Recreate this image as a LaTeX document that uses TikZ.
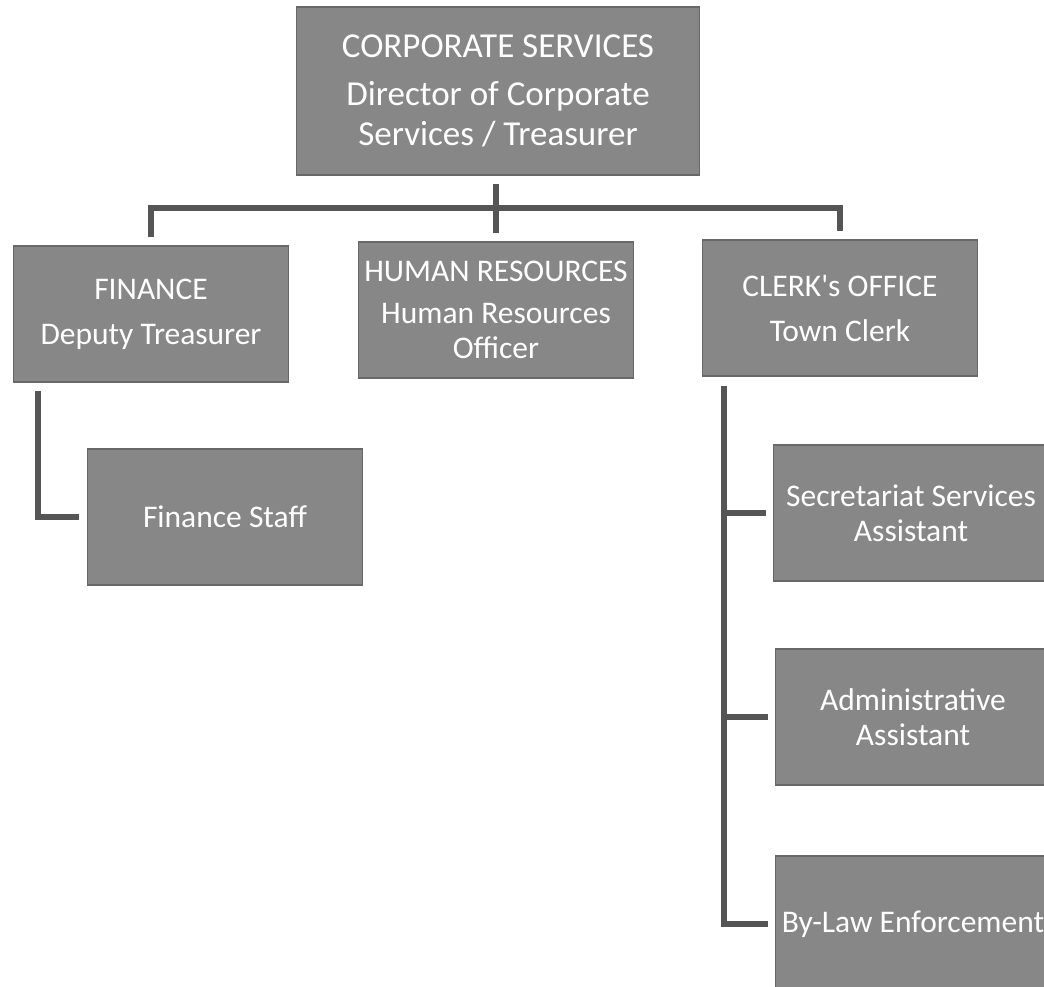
\documentclass[tikz,border=0pt]{standalone}
\usepackage{fontspec}
\setmainfont{Carlito}
\usepackage{xcolor}
\definecolor{boxgray}{HTML}{878787}
\definecolor{edgegray}{HTML}{686868}
\definecolor{linkgray}{HTML}{555555}
\usetikzlibrary{positioning, calc}

\begin{document}
\begin{tikzpicture}[x=1pt, y=-1pt,
  unit/.style={draw=edgegray, line width=1.2pt, fill=boxgray, text=white,
    minimum width=275pt, minimum height=136pt, align=center,
    font=\fontsize{31.5}{35}\selectfont},
  head/.style={unit, minimum width=403pt, minimum height=168pt,
    font=\fontsize{35}{40}\selectfont},
  link/.style={draw=linkgray, line width=6.5pt, line join=miter}]
  % page frame
  \useasboundingbox (0,0) rectangle (1044,987);
  \clip (0,0) rectangle (1044,987);
  % boxes
  \node[head] (corp) at (498,91)
    {CORPORATE SERVICES\\[8pt]Director of Corporate\\Services / Treasurer};
  \node[unit] (fin) at (151,314) {FINANCE\\[10pt]Deputy Treasurer};
  \node[unit] (hr) at (496,310) {HUMAN RESOURCES\\[7pt]Human Resources\\Officer};
  \node[unit] (clerk) at (840,308) {CLERK\textquotesingle s OFFICE\\[10pt]Town Clerk};
  \node[unit] (fstaff) at (225,517) {Finance Staff};
  \node[unit] (secr) at (911,513) {Secretariat Services\\Assistant};
  \node[unit] (admin) at (913,717) {Administrative\\Assistant};
  \node[unit] (bylaw) at (913,924) {By-Law Enforcement};
  % top level connectors
  \coordinate (bus) at (496,208);
  \draw[link] ([yshift=-8pt]corp.south -| hr.north) -- ([yshift=8pt]hr.north);
  \draw[link] ([yshift=8pt]fin.north) |- (bus) -| ([yshift=8pt]clerk.north);
  % finance branch
  \draw[link] ([xshift=25pt,yshift=-8pt]fin.south west) |- ([xshift=-8pt]fstaff.west);
  % clerk branch
  \coordinate (trunk) at ([xshift=22pt,yshift=-9pt]clerk.south west);
  \draw[link] (trunk) |- ([xshift=-7pt]bylaw.west);
  \foreach \n in {secr, admin}
    \draw[link] (\n.west -| trunk) -- ([xshift=-7pt]\n.west);
\end{tikzpicture}
\end{document}
